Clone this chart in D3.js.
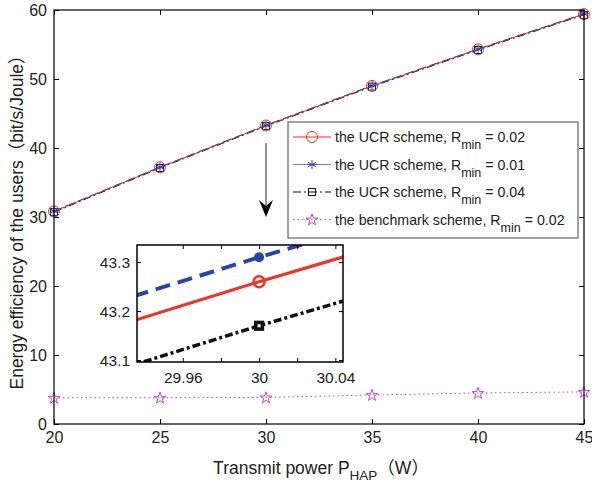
<!DOCTYPE html>
<html>
<head>
<meta charset="utf-8">
<script src="https://cdn.jsdelivr.net/npm/d3@7"></script>
<style>
  body { margin: 0; background: #fff; }
  svg { display: block; font-family: "Liberation Sans", Arial, "Noto Sans CJK SC", sans-serif; }
</style>
</head>
<body>
<div id="chart"></div>
<script>
// data
const powers = [20, 25, 30, 35, 40, 45]
const eeR002 = [30.8, 37.2, 43.26, 49.0, 54.3, 59.4]
const eeR001 = [30.85, 37.25, 43.31, 49.05, 54.35, 59.45]
const eeR004 = [30.7, 37.1, 43.17, 48.9, 54.2, 59.3]
const eeBench = [3.8, 3.8, 3.85, 4.2, 4.5, 4.65]

const xTicks = [20, 25, 30, 35, 40, 45]
const yTicks = [0, 10, 20, 30, 40, 50, 60]
const insetXTicks = [29.96, 29.98, 30, 30.02, 30.04]
const insetXLabels = ['29.96', '', '30', '', '30.04']
const insetYTicks = [43.1, 43.2, 43.3]
const legendLabels = [
  ['the UCR scheme, R', 'min', ' = 0.02'],
  ['the UCR scheme, R', 'min', ' = 0.01'],
  ['the UCR scheme, R', 'min', ' = 0.04'],
  ['the benchmark scheme, R', 'min', ' = 0.02']
]

const width = 592
const height = 486
const plot = { left: 54, right: 584, top: 10, bottom: 424 }

const svg = d3.select('#chart').append('svg')
  .attr('width', width)
  .attr('height', height)

const x = d3.scaleLinear().domain([20, 45]).range([plot.left, plot.right])
const y = d3.scaleLinear().domain([0, 60]).range([plot.bottom, plot.top])

const series = [
  { values: eeR004, color: '#111', dash: '8,3,2,3', marker: 'square' },
  { values: eeR002, color: '#e8301e', dash: null, marker: 'circle' },
  { values: eeR001, color: '#3446b0', dash: '9,4', marker: 'asterisk' },
  { values: eeBench, color: '#c846c8', dash: '1.5,3', marker: 'star' }
]

const star = d3.symbol().type(d3.symbolStar).size(42)

function drawMarker(g, type, cx, cy, color) {
  if (type === 'circle') {
    g.append('circle').attr('cx', cx).attr('cy', cy).attr('r', 5.5)
      .attr('fill', 'none').attr('stroke', color).attr('stroke-width', 1)
  } else if (type === 'square') {
    g.append('rect').attr('x', cx - 3.5).attr('y', cy - 3.5).attr('width', 7).attr('height', 7)
      .attr('fill', 'none').attr('stroke', color).attr('stroke-width', 1)
  } else if (type === 'asterisk') {
    const r = 4.5
    const p = [0, 60, 120].map((a) => {
      const t = (a + 90) * Math.PI / 180
      return `M${cx - r * Math.cos(t)},${cy - r * Math.sin(t)}L${cx + r * Math.cos(t)},${cy + r * Math.sin(t)}`
    }).join('') + `M${cx - r},${cy}L${cx + r},${cy}`
    g.append('path').attr('d', p).attr('stroke', color).attr('stroke-width', 1).attr('fill', 'none')
  } else if (type === 'star') {
    g.append('path').attr('d', star()).attr('transform', `translate(${cx},${cy + 0.5})`)
      .attr('fill', 'none').attr('stroke', color).attr('stroke-width', 1)
  }
}

// main lines
const line = d3.line().x((d, i) => x(powers[i])).y((d) => y(d))
const main = svg.append('g')
series.forEach((s) => {
  main.append('path').attr('d', line(s.values))
    .attr('fill', 'none').attr('stroke', s.color).attr('stroke-width', 1)
    .attr('stroke-dasharray', s.dash)
  s.values.forEach((v, i) => drawMarker(main, s.marker, x(powers[i]), y(v), s.color))
})

// axes, ticks pointing inward, box around
const axisFont = (g) => g.selectAll('text').attr('font-size', 16).attr('fill', '#222')
svg.append('g').attr('transform', `translate(0,${plot.bottom})`)
  .call(d3.axisBottom(x).tickValues(xTicks).tickSize(-5).tickPadding(8).tickSizeOuter(0))
  .call((g) => g.select('.domain').remove())
  .call(axisFont)
svg.append('g').attr('transform', `translate(${plot.left},0)`)
  .call(d3.axisLeft(y).tickValues(yTicks).tickSize(-5).tickPadding(7).tickSizeOuter(0))
  .call((g) => g.select('.domain').remove())
  .call(axisFont)
svg.append('g').attr('transform', `translate(0,${plot.top})`)
  .call(d3.axisTop(x).tickValues(xTicks).tickSize(-5).tickFormat('').tickSizeOuter(0))
  .call((g) => g.select('.domain').remove())
svg.append('g').attr('transform', `translate(${plot.right},0)`)
  .call(d3.axisRight(y).tickValues(yTicks).tickSize(-5).tickFormat('').tickSizeOuter(0))
  .call((g) => g.select('.domain').remove())
svg.append('rect')
  .attr('x', plot.left).attr('y', plot.top)
  .attr('width', plot.right - plot.left).attr('height', plot.bottom - plot.top)
  .attr('fill', 'none').attr('stroke', '#000').attr('stroke-width', 1.2)

// axis titles
const xt = svg.append('text').attr('x', 321).attr('y', 474).attr('text-anchor', 'middle')
  .attr('font-size', 17.5).attr('fill', '#222')
xt.append('tspan').text('Transmit power P')
xt.append('tspan').text('HAP').attr('font-size', 13.5).attr('dy', 6)
xt.append('tspan').text('（W）').attr('dy', -6)

svg.append('text')
  .attr('transform', 'translate(23,218) rotate(-90)')
  .attr('text-anchor', 'middle').attr('font-size', 17.5).attr('fill', '#222')
  .text('Energy efficiency of the users（bit/s/Joule）')

// legend
const leg = svg.append('g')
leg.append('rect').attr('x', 288).attr('y', 122).attr('width', 290).attr('height', 116)
  .attr('fill', '#fff').attr('stroke', '#444').attr('stroke-width', 1)
const legSeries = [series[1], series[2], series[0], series[3]]
const legDash = [null, null, '8,3,2,3', '1.5,3']
legSeries.forEach((s, i) => {
  const ly = 137 + i * 27.5
  leg.append('line').attr('x1', 293).attr('x2', 331).attr('y1', ly).attr('y2', ly)
    .attr('stroke', s.color).attr('stroke-width', 1).attr('stroke-opacity', i === 1 ? 0.7 : 1)
    .attr('stroke-dasharray', legDash[i])
  drawMarker(leg, s.marker, 312, ly, s.color)
  const t = leg.append('text').attr('x', 335).attr('y', ly + 5).attr('font-size', 14.2).attr('fill', '#222')
  t.append('tspan').text(legendLabels[i][0])
  t.append('tspan').text(legendLabels[i][1]).attr('font-size', 12.5).attr('dy', 7)
  t.append('tspan').text(legendLabels[i][2]).attr('dy', -7)
})

// arrow pointing to the zoomed region
svg.append('line').attr('x1', 266).attr('x2', 266).attr('y1', 143).attr('y2', 206)
  .attr('stroke', '#777').attr('stroke-width', 1.6)
svg.append('path').attr('d', 'M259,200L266,217L273,200L266,206Z').attr('fill', '#000')

// inset
const ins = { left: 137, right: 343, top: 245, bottom: 362 }
const ix = d3.scaleLinear().domain([29.936, 30.044]).range([ins.left, ins.right])
const iy = d3.scaleLinear().domain([43.096, 43.335]).range([ins.bottom, ins.top])
const ig = svg.append('g')
ig.append('rect').attr('x', ins.left).attr('y', ins.top)
  .attr('width', ins.right - ins.left).attr('height', ins.bottom - ins.top).attr('fill', '#fff')
svg.append('clipPath').attr('id', 'insclip').append('rect')
  .attr('x', ins.left).attr('y', ins.top)
  .attr('width', ins.right - ins.left).attr('height', ins.bottom - ins.top)
const iline = d3.line().x((d, i) => ix(powers[i])).y((d) => iy(d))
const insetSeries = [
  { values: eeR001, color: '#2c44a8', dash: '15,8', width: 4 },
  { values: eeR002, color: '#e8382a', dash: null, width: 3.2 },
  { values: eeR004, color: '#111', dash: '8,3,3,3', width: 3.5 }
]
const ic = ig.append('g').attr('clip-path', 'url(#insclip)')
insetSeries.forEach((s) => {
  ic.append('path').attr('d', iline(s.values)).attr('fill', 'none')
    .attr('stroke', s.color).attr('stroke-width', s.width).attr('stroke-dasharray', s.dash)
})
const i30 = powers.indexOf(30)
ic.append('circle').attr('cx', ix(30)).attr('cy', iy(eeR001[i30])).attr('r', 5).attr('fill', '#2c44a8')
ic.append('circle').attr('cx', ix(30)).attr('cy', iy(eeR002[i30])).attr('r', 5.5)
  .attr('fill', 'none').attr('stroke', '#e8382a').attr('stroke-width', 2.6)
ic.append('rect').attr('x', ix(30) - 3.3).attr('y', iy(eeR004[i30]) - 3.3).attr('width', 6.6).attr('height', 6.6)
  .attr('fill', '#fff').attr('stroke', '#111').attr('stroke-width', 3.6)

const insFont = (g) => g.selectAll('text').attr('font-size', 15.5).attr('fill', '#222')
ig.append('g').attr('transform', `translate(0,${ins.bottom})`)
  .call(d3.axisBottom(ix).tickValues(insetXTicks).tickSize(-4).tickPadding(10).tickSizeOuter(0)
    .tickFormat((d, i) => insetXLabels[i]))
  .call((g) => g.select('.domain').remove())
  .call(insFont)
ig.append('g').attr('transform', `translate(${ins.left},0)`)
  .call(d3.axisLeft(iy).tickValues(insetYTicks).tickSize(-4).tickPadding(7).tickSizeOuter(0)
    .tickFormat(d3.format('.1f')))
  .call((g) => g.select('.domain').remove())
  .call(insFont)
ig.append('g').attr('transform', `translate(0,${ins.top})`)
  .call(d3.axisTop(ix).tickValues(insetXTicks).tickSize(-4).tickFormat('').tickSizeOuter(0))
  .call((g) => g.select('.domain').remove())
ig.append('g').attr('transform', `translate(${ins.right},0)`)
  .call(d3.axisRight(iy).tickValues(insetYTicks).tickSize(-4).tickFormat('').tickSizeOuter(0))
  .call((g) => g.select('.domain').remove())
ig.append('rect').attr('x', ins.left).attr('y', ins.top)
  .attr('width', ins.right - ins.left).attr('height', ins.bottom - ins.top)
  .attr('fill', 'none').attr('stroke', '#000').attr('stroke-width', 1.5)
</script>
</body>
</html>
